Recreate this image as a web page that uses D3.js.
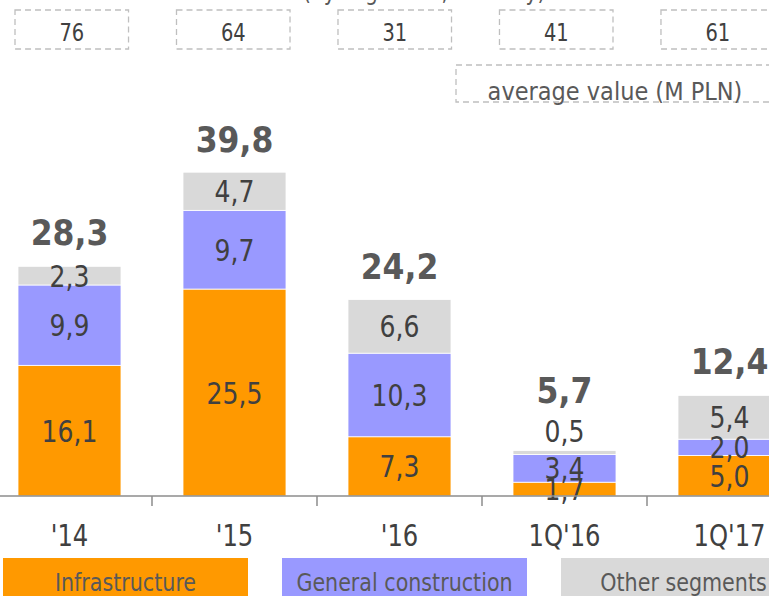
<!DOCTYPE html>
<html>
<head>
<meta charset="utf-8">
<script src="https://cdn.jsdelivr.net/npm/d3@7"></script>
<style>
  html, body { margin: 0; padding: 0; background: #fff; }
  svg { display: block; font-family: "DejaVu Sans Condensed", "DejaVu Sans", sans-serif; }
</style>
</head>
<body>
<svg id="chart" width="769" height="596"></svg>
<script>
// values
var categories = ["'14", "'15", "'16", "1Q'16", "1Q'17"];
var infrastructure = [16.1, 25.5, 7.3, 1.7, 5.0];
var generalConstruction = [9.9, 9.7, 10.3, 3.4, 2.0];
var otherSegments = [2.3, 4.7, 6.6, 0.5, 5.4];
var totals = [28.3, 39.8, 24.2, 5.7, 12.4];
var averageValue = [76, 64, 31, 41, 61];
var seriesNames = ["Infrastructure", "General construction", "Other segments"];
var seriesColors = ["#ff9900", "#9999ff", "#d9d9d9"];

var svg = d3.select("#chart");
var locale = d3.formatLocale({decimal: ",", thousands: " ", grouping: [3], currency: ["", ""]});
var fmt = locale.format(".1f");

// slide font is Tahoma-like: taller glyphs than DejaVu at the same width
function squeeze(cx, cy) { return "translate(" + cx + "," + cy + ") scale(0.9,1)"; }

var x = d3.scaleBand().domain(categories).range([18, 781]).paddingInner(0.3758).paddingOuter(0);
var y = d3.scaleLinear().domain([0, 39.8]).range([496, 173]);
// the dashed "average value" boxes sit on their own grid
var xBox = d3.scaleBand().domain(categories).range([15, 774.5]).paddingInner(0.297).paddingOuter(0);

// title, mostly cut off by the crop
svg.append("text").attr("transform", squeeze(303, 0))
  .style("font-size", "25px").style("fill", "#595959")
  .text("(by segments, monthly)");

// average value boxes
var boxes = svg.append("g").selectAll("g").data(categories).join("g")
  .attr("transform", function(d) { return "translate(" + xBox(d) + ",10)"; });
boxes.append("rect")
  .attr("width", xBox.bandwidth()).attr("height", 39)
  .attr("fill", "none").attr("stroke", "#bfbfbf").attr("stroke-width", 1.3)
  .attr("stroke-dasharray", "6,4");
boxes.append("text")
  .attr("transform", squeeze(xBox.bandwidth() / 2, 31))
  .attr("text-anchor", "middle")
  .style("font-size", "24px").style("fill", "#404040")
  .text(function(d, i) { return averageValue[i]; });

svg.append("rect")
  .attr("x", 456).attr("y", 65).attr("width", 318).attr("height", 37)
  .attr("fill", "none").attr("stroke", "#bfbfbf").attr("stroke-width", 1.3)
  .attr("stroke-dasharray", "6,4");
svg.append("text").attr("transform", squeeze(615, 100))
  .attr("text-anchor", "middle")
  .style("font-family", "'DejaVu Sans', sans-serif")
  .style("font-size", "25px").style("fill", "#595959")
  .text("average value (M PLN)");

// stacked bars
var rows = categories.map(function(c, i) {
  return {cat: c, infra: infrastructure[i], gen: generalConstruction[i], other: otherSegments[i]};
});
var stack = d3.stack().keys(["infra", "gen", "other"]);
var layers = stack(rows);

var layer = svg.append("g").selectAll("g").data(layers).join("g")
  .attr("fill", function(d, i) { return seriesColors[i]; });
layer.selectAll("rect").data(function(d) { return d; }).join("rect")
  .attr("x", function(d) { return x(d.data.cat); })
  .attr("width", x.bandwidth())
  .attr("y", function(d) { return y(d[1]); })
  .attr("height", function(d) { return y(d[0]) - y(d[1]); })
  .attr("stroke", "#fff").attr("stroke-width", 0.8);

// segment labels: centred, or above the bar when the slice is too thin
var labelTop = categories.map(function(c, i) { return y(totals[i]); });
layers.forEach(function(lay) {
  svg.append("g").selectAll("text").data(lay).join("text")
    .attr("transform", function(d, i) {
      var cx = x(d.data.cat) + x.bandwidth() / 2;
      var h = y(d[0]) - y(d[1]);
      if (h < 10) {
        labelTop[i] = y(d[1]) - 9 - 18;
        return squeeze(cx, y(d[1]) - 9);
      }
      return squeeze(cx, (y(d[0]) + y(d[1])) / 2 + 11);
    })
    .attr("text-anchor", "middle")
    .style("font-size", "31px").style("fill", "#404040")
    .text(function(d) { return fmt(d[1] - d[0]); });
});

// totals
svg.append("g").selectAll("text").data(categories).join("text")
  .attr("x", function(d) { return x(d) + x.bandwidth() / 2; })
  .attr("y", function(d, i) { return labelTop[i] - 21; })
  .attr("text-anchor", "middle")
  .style("font-size", "35px").style("font-weight", "bold").style("fill", "#595959")
  .text(function(d, i) { return fmt(totals[i]); });

// axis
var axis = svg.append("g").attr("transform", "translate(0,496)");
axis.append("line").attr("x1", 0).attr("x2", 769)
  .attr("stroke", "#8c8c8c").attr("stroke-width", 1.5);
axis.selectAll("line.tick").data(categories.slice(0, 4)).join("line")
  .attr("class", "tick")
  .attr("x1", function(d) { return x(d) + x.bandwidth() + x.step() * x.paddingInner() / 2; })
  .attr("x2", function(d) { return x(d) + x.bandwidth() + x.step() * x.paddingInner() / 2; })
  .attr("y1", 0).attr("y2", 10)
  .attr("stroke", "#8c8c8c").attr("stroke-width", 1.5);
axis.selectAll("text").data(categories).join("text")
  .attr("transform", function(d) { return squeeze(x(d) + x.bandwidth() / 2, 50); })
  .attr("text-anchor", "middle")
  .style("font-size", "30px").style("fill", "#404040")
  .text(function(d) { return d; });

// legend boxes
var legend = svg.append("g").selectAll("g").data(seriesNames).join("g")
  .attr("transform", function(d, i) { return "translate(" + (3 + i * 279) + ",558)"; });
legend.append("rect").attr("width", 245).attr("height", 42)
  .attr("fill", function(d, i) { return seriesColors[i]; });
legend.append("text").attr("transform", squeeze(122.5, 33))
  .attr("text-anchor", "middle")
  .style("font-size", "25.5px").style("fill", "#595959")
  .text(function(d) { return d; });
</script>
</body>
</html>
